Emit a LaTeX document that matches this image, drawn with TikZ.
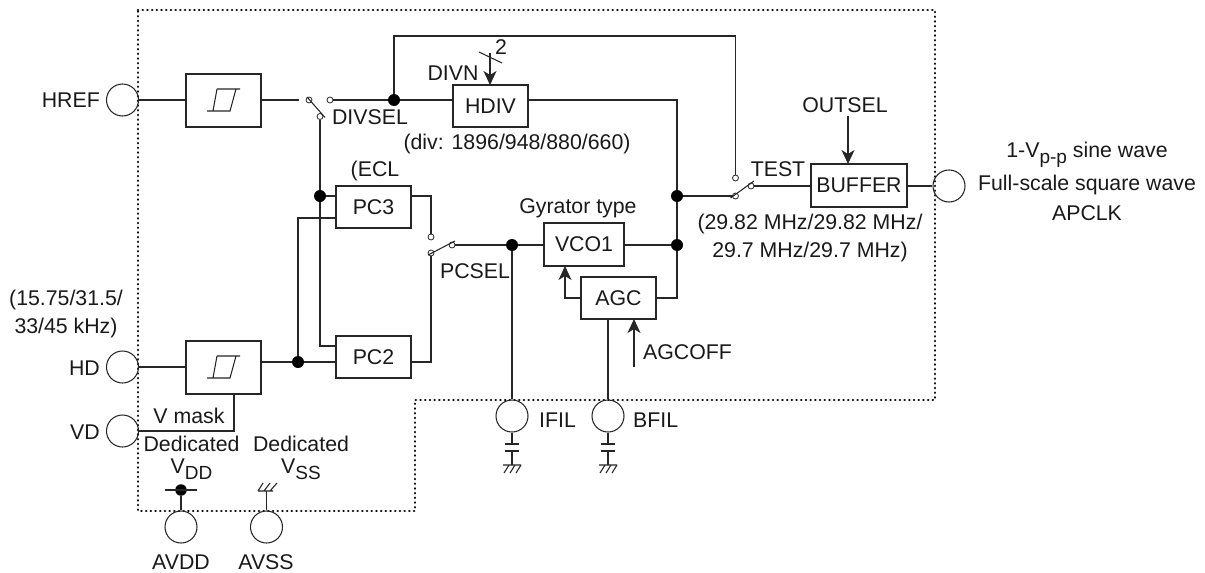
\documentclass[tikz,border=0pt]{standalone}
\usepackage{fontspec}
\setmainfont{Liberation Sans}
\usetikzlibrary{arrows.meta,calc}
\tikzset{
  wire/.style={draw=black!85,line width=1.05pt},
  flow/.style={wire,-{Stealth[length=14pt,width=13pt,inset=4pt]}},
  blockbox/.style={draw=black!85,line width=1.1pt,fill=white,inner sep=0pt,minimum width=75pt,minimum height=42pt},
  schmitt/.style={blockbox,minimum height=53pt},
  pad/.style={circle,draw=black!85,line width=1.05pt,inner sep=0pt,minimum size=32pt},
  contact/.style={circle,draw=black!85,line width=0.8pt,fill=white,inner sep=0pt,minimum size=6pt},
  junction/.style={circle,fill=black,inner sep=0pt,minimum size=12pt},
  smalljunction/.style={circle,fill=black,inner sep=0pt,minimum size=11.5pt},
  lbl/.style={inner sep=0pt,font=\fontsize{21.3}{24}\selectfont,text=black!90},
  dotted frame/.style={draw=black,line width=2.7pt,line cap=round,dash pattern=on 0.1pt off 4.6pt},
}
\newcommand{\subtxt}[1]{\raisebox{-0.28em}{\fontsize{19}{20}\selectfont #1}}
\newcommand{\hyst}[1]{%
  \draw[wire] ($(#1)+(-16.5,10.5)$) -- ($(#1)+(6.5,10.5)$) -- ($(#1)+(12.5,-11.5)$)
    ($(#1)+(-6.5,-11.5)$) -- ($(#1)+(16.5,-11.5)$)
    ($(#1)+(-10.5,10.5)$) -- ($(#1)+(-6.5,-11.5)$);}
\newcommand{\hatchgnd}[1]{%
  \draw[wire] ($(#1)+(-9,0)$) -- ($(#1)+(9,0)$)
    ($(#1)+(-3,0)$) -- ($(#1)+(-8,8)$) ($(#1)+(3,0)$) -- ($(#1)+(-2,8)$) ($(#1)+(9,0)$) -- ($(#1)+(4,8)$);}
\begin{document}
\begin{tikzpicture}[x=1pt,y=-1pt]
\useasboundingbox (0,0) rectangle (1205,573);
\draw[dotted frame] (138,10) -- (935,10) -- (935,400) -- (415,400) -- (415,511) -- (138,511) -- cycle;

% blocks
\node[schmitt] (st1) at (223.5,100.5) {};
\node[schmitt] (st2) at (223.5,367.5) {};
\node[blockbox,lbl,minimum width=75pt] (hdiv) at (490.5,106) {HDIV};
\node[blockbox,lbl] (pc3) at (373.5,207) {PC3};
\node[blockbox,lbl] (pc2) at (373.5,357) {PC2};
\node[blockbox,lbl,minimum width=80pt,minimum height=43pt] (vco) at (584,244.5) {VCO1};
\node[blockbox,lbl] (agc) at (618.5,298) {AGC};
\node[blockbox,lbl,minimum width=96pt,minimum height=43pt] (buf) at (859,185.5) {BUFFER};
\hyst{st1}\hyst{st2}

% pads
\node[pad] (href) at (122.5,100) {};
\node[pad] (hd) at (122.5,367) {};
\node[pad] (vd) at (122.5,431) {};
\node[pad] (avdd) at (181,527) {};
\node[pad] (avss) at (266.5,527) {};
\node[pad] (ifil) at (512,416) {};
\node[pad] (bfil) at (608,416) {};
\node[pad] (out) at (949,186) {};

% junctions
\node[junction] (j1) at (394,100) {};
\node[junction] (j2) at (320,196) {};
\node[junction] (j3) at (298,362) {};
\node[junction] (j4) at (677,196) {};
\node[junction] (j5) at (677,245) {};
\node[junction] (j6) at (512,245) {};
\node[smalljunction] (j7) at (181,490) {};

% switches
\node[contact] (s1a) at (309,100) {};
\node[contact] (s1b) at (330,100) {};
\node[contact] (s1c) at (320,116.5) {};
\node[contact] (s2a) at (431,237) {};
\node[contact] (s2b) at (431,253) {};
\node[contact] (s2c) at (452,245) {};
\node[contact] (s3a) at (735.5,178) {};
\node[contact] (s3b) at (735.5,196) {};
\node[contact] (s3c) at (751,186) {};
\draw[wire] ($(s1a)+(-2,-3)$) -- ($(s1c)+(5,1)$);
\draw[wire] ($(s2b)+(-3,2)$) -- ($(s2c)+(3,-4)$);
\draw[wire] ($(s3b)+(-5,2)$) -- ($(s3c)+(3,-5)$);

% connectors
\draw[wire] (href.east) -- (st1.west |- href.east);
\draw[wire] (st1.east |- s1a) -- ($(s1a)+(-10,0)$);
\draw[wire] (s1b) -- (j1) -- (hdiv.west |- j1);
\draw[wire] (s1c) -- (j2) -- (pc3.west |- j2);
\draw[wire] (j2) -- (j2 |- 0,346) -- (pc2.west |- 0,346);
\draw[wire] (j3) -- (j3 |- 0,218) -- (pc3.west |- 0,218);
\draw[wire] (st2.east |- j3) -- (j3) -- (pc2.west |- j3);
\draw[wire] (hd.east) -- (st2.west |- hd.east);
\coordinate (vmc) at (234,431);
\draw[wire] (vd.east) -- (vmc) -- (vmc |- st2.south);
\draw[wire] (pc3.east |- j2) -- (s2a |- j2) -- (s2a);
\draw[wire] (pc2.east |- j3) -- (s2b |- j3) -- (s2b);
\draw[wire] (s2c) -- (j6) -- (vco.west |- j6);
\draw[wire] (vco.east |- j5) -- (j5);
\draw[wire] (j6) -- (ifil.north);
\draw[wire] (hdiv.east |- j1) -- (j4 |- j1) -- (j4) -- (j5) -- (j5 |- agc.east) -- (agc.east);
\draw[wire] (j1) -- (j1 |- 0,36) -- (s3a |- 0,36) -- (s3a);
\draw[wire] (j4) -- ($(s3b)+(-3,0)$);
\draw[wire] (s3c) -- (buf.west |- s3c);
\draw[wire] (buf.east |- s3c) -- (out.west);
\draw[flow] (agc.west) -- (565,298) -- (565,266);
\draw[wire] (608,319) -- (bfil.north);
\coordinate (agcoffs) at (634,367);
\draw[flow] (agcoffs) -- (634,319);
\coordinate (outsels) at (848,116);
\draw[flow] (outsels) -- (848,164);
\coordinate (divns) at (490,53);
\draw[flow] (divns) -- (490,85);
\draw[wire] (479,52) -- (502,63);

% supply
\draw[wire] (avdd.north) -- (j7);
\draw[wire] (165,490) -- (197,490);
\coordinate (gv) at (266.5,491);
\draw[wire] (avss.north) -- (gv);
\draw[wire] (258,491) -- (273,491) (263,483) -- (258,491) (270,483) -- (264,491) (277,483) -- (270,491);

% capacitors
\foreach \nm/\x in {ifil/512,bfil/608}{
  \coordinate (\nm p) at (\x,444);
  \coordinate (\nm q) at (\x,451);
  \coordinate (\nm g) at (\x,465);
  \draw[wire] (\nm.south) -- (\nm p);
  \draw[wire] ($(\nm p)+(-7,0)$) -- ($(\nm p)+(7,0)$);
  \draw[wire] ($(\nm q)+(-7,0)$) -- ($(\nm q)+(7,0)$);
  \draw[wire] (\nm q) -- (\nm g);
  \hatchgnd{\nm g}
}

% labels
\node[lbl,anchor=east] (thref) at (100,100) {HREF};
\node[lbl,anchor=east] (thd) at (100,368) {HD};
\node[lbl,anchor=east] (tvd) at (100,432) {VD};
\node[lbl] (t1) at (66,300) {(15.75/31.5/};
\node[lbl] (t2) at (66,328) {33/45 kHz)};
\node[lbl] (tmask) at (189,416) {V mask};
\node[lbl] (td1) at (191.5,444) {Dedicated};
\node[lbl] (td2) at (301,444) {Dedicated};
\node[lbl] (tvdd) at (191.5,469) {V\subtxt{DD}};
\node[lbl] (tvss) at (301,469) {V\subtxt{SS}};
\node[lbl] (tavdd) at (181,562) {AVDD};
\node[lbl] (tavss) at (266,562) {AVSS};
\node[lbl] (tdivsel) at (370,117) {DIVSEL};
\node[lbl] (tdivn) at (453,73) {DIVN};
\node[lbl] (ttwo) at (501,47) {2};
\node[lbl] (tdiv) at (517,144) {(div: 1896/948/880/660)};
\node[lbl] (tecl) at (375,171) {(ECL};
\node[lbl] (tpcsel) at (475,271) {PCSEL};
\node[lbl] (tgyr) at (578,208) {Gyrator type};
\node[lbl,anchor=west] (tagcoff) at (643,352) {AGCOFF};
\node[lbl,anchor=west] (tifil) at (539,420) {IFIL};
\node[lbl,anchor=west] (tbfil) at (633,420) {BFIL};
\node[lbl] (ttest) at (778,169) {TEST};
\node[lbl] (toutsel) at (845,105) {OUTSEL};
\node[lbl] (tf1) at (810,224) {(29.82 MHz/29.82 MHz/};
\node[lbl] (tf2) at (810,252) {29.7 MHz/29.7 MHz)};
\node[lbl] (tr1) at (1087,155) {1-V\subtxt{p-p} sine wave};
\node[lbl] (tr2) at (1087,185) {Full-scale square wave};
\node[lbl] (tr3) at (1087,213) {APCLK};
\end{tikzpicture}
\end{document}
